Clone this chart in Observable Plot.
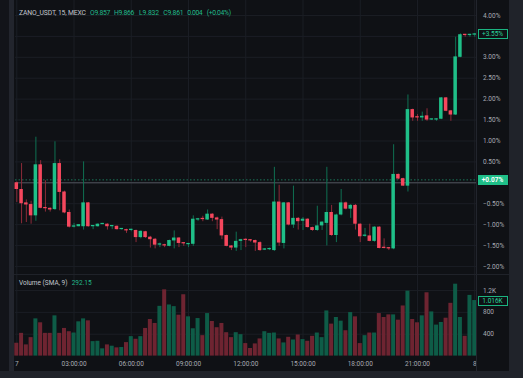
<!DOCTYPE html>
<html><head><meta charset="utf-8">
<script src="https://cdn.jsdelivr.net/npm/d3@7"></script>
<script src="https://cdn.jsdelivr.net/npm/@observablehq/plot@0.6"></script>
<style>
html,body{margin:0;padding:0;background:#0f1115;}
#wrap{position:relative;width:523px;height:378px;overflow:hidden;background:#0f1115;font-family:Roboto,"Noto Sans",sans-serif;}
#wrap svg{position:absolute;left:0;}
.blk{position:absolute;}
.lbl{position:absolute;font-size:6.5px;line-height:8px;white-space:nowrap;}
</style></head><body>
<div id="wrap"></div>
<script>
// ---- header texts ----
const symbolText = "ZANO_USDT, 15, MEXC";
const ohlcTexts = ["O9.857", "H9.866", "L9.832", "C9.861", "0.004", "(+0.04%)"];
const volTitle = "Volume (SMA, 9)";
const volSma = "292.15";
const lastPctLabel = "+3.55%";
const prevPctLabel = "+0.07%";
const lastVolLabel = "1.016K";

// ---- candles (percent change vs first open), 15-min bars ----
const opens = [0,-0.16,-0.48,-0.52,-0.79,0.43,-0.59,-0.61,-0.64,0.46,-0.22,-0.71,-1.06,-1.05,-1.05,-0.48,-1.05,-1.05,-1.00,-0.99,
 -1.05,-1.04,-1.12,-1.12,-1.14,-1.14,-1.31,-1.17,-1.30,-1.35,-1.49,-1.48,-1.52,-1.39,-1.32,-1.44,-1.48,-1.47,-0.89,-0.86,
 -0.89,-0.75,-0.84,-0.88,-1.26,-1.51,-1.56,-1.40,-1.35,-1.37,-1.38,-1.43,-1.61,-1.60,-1.62,-0.46,-1.45,-0.48,-1.01,-0.85,
 -0.92,-0.87,-1.07,-1.14,-1.03,-0.97,-0.71,-1.26,-0.77,-0.48,-0.63,-0.54,-0.99,-1.28,-1.27,-1.40,-1.06,-1.55,-1.56,-1.58,
 0.20,0.10,-0.08,1.75,1.57,1.55,1.60,1.50,1.50,1.52,2.03,1.72,1.62,3.00,3.53,3.52,3.53];
const highs = [0.02,0.46,-0.41,-0.44,1.09,0.53,0.05,-0.60,0.98,0.55,-0.20,-0.65,-0.97,-1.00,0.50,-0.47,-1.02,-0.98,-0.97,-0.98,
 -1.03,-1.03,-1.10,-1.11,-1.11,-1.13,-1.15,-1.16,-1.28,-1.33,-1.44,-1.47,-1.37,-1.15,-1.31,-1.43,-1.45,-0.79,-0.85,-0.80,
 -0.65,-0.74,-0.82,-0.82,-1.25,-1.50,-1.18,-1.35,-1.34,-1.36,-1.37,-1.41,-1.57,-1.56,0.37,-0.06,-0.47,-0.47,-0.08,-0.83,
 -0.83,-0.86,-1.06,-0.56,-0.93,0.37,-0.54,-0.75,-0.16,-0.46,-0.52,-0.52,-0.98,-1.09,-0.99,-1.05,-1.05,-1.34,-1.55,0.91,
 0.21,0.11,2.10,1.76,1.63,1.69,1.77,1.52,1.53,2.04,2.04,1.73,3.48,3.56,3.55,3.55,3.57];
const lows = [-0.47,-0.98,-0.95,-0.99,-0.92,-0.62,-0.70,-0.70,-0.66,-0.67,-0.74,-1.08,-1.08,-1.05,-1.13,-1.06,-1.12,-1.06,-1.00,-1.13,
 -1.12,-1.13,-1.13,-1.21,-1.17,-1.43,-1.34,-1.33,-1.56,-1.58,-1.55,-1.55,-1.53,-1.58,-1.55,-1.52,-1.55,-1.52,-0.92,-0.93,
 -0.90,-0.93,-1.12,-1.36,-1.53,-1.62,-1.64,-1.62,-1.55,-1.42,-1.64,-1.64,-1.62,-1.62,-1.64,-1.52,-1.58,-1.03,-1.09,-1.13,
 -1.14,-1.08,-1.16,-1.16,-1.14,-1.51,-1.28,-1.43,-0.79,-0.65,-0.85,-1.13,-1.43,-1.30,-1.41,-1.42,-1.58,-1.58,-1.62,-1.60,
 0.07,-0.09,-0.22,1.47,1.47,1.47,1.47,1.49,1.47,1.51,1.70,1.47,1.61,2.99,3.48,3.48,3.48];
const closes = [-0.16,-0.50,-0.53,-0.79,0.43,-0.61,-0.62,-0.65,0.46,-0.23,-0.72,-1.06,-1.03,-1.00,-0.48,-1.05,-1.03,-0.99,-0.98,-1.05,
 -1.04,-1.12,-1.11,-1.15,-1.13,-1.31,-1.16,-1.31,-1.36,-1.49,-1.48,-1.51,-1.38,-1.32,-1.45,-1.46,-1.46,-0.87,-0.86,-0.88,
 -0.75,-0.85,-0.89,-1.27,-1.52,-1.56,-1.40,-1.36,-1.38,-1.39,-1.44,-1.62,-1.60,-1.59,-0.46,-1.44,-0.48,-1.01,-0.85,-0.93,
 -0.87,-1.07,-1.14,-1.03,-0.94,-0.71,-1.26,-0.77,-0.48,-0.63,-0.54,-0.99,-1.29,-1.26,-1.40,-1.06,-1.57,-1.57,-1.58,0.20,
 0.09,-0.08,1.75,1.55,1.55,1.59,1.50,1.51,1.52,2.03,1.71,1.62,3.01,3.54,3.52,3.53,3.55];
const volumes = [235,416,205,338,681,609,416,416,736,416,506,446,422,627,681,645,265,271,133,205,
 181,151,157,247,356,308,356,506,669,597,910,1212,935,905,748,1122,718,500,687,374,
 778,633,519,597,428,338,428,392,229,139,223,314,446,416,422,314,241,344,295,386,
 302,271,362,422,338,826,585,706,639,464,796,718,229,374,422,422,778,706,754,754,
 657,917,1188,669,609,736,1158,808,567,615,693,965,1315,706,362,1110,1016];

// ---- axes ----
const timeTickValues = [0,3,6,9,12,15,18,21,24];
const timeTickLabels = ["7","03:00:00","06:00:00","09:00:00","12:00:00","15:00:00","18:00:00","21:00:00","8"];
const priceGridValues = [4,3.5,3,2.5,2,1.5,1,0.5,0,-0.5,-1,-1.5,-2];
const priceTickValues = [4,3,2.5,2,1.5,1,0.5,-0.5,-1,-1.5,-2];
const priceTickLabels = ["4.00%","3.00%","2.50%","2.00%","1.50%","1.00%","0.50%","−0.50%","−1.00%","−1.50%","−2.00%"];
const volTickValues = [1200,800,400];
const volTickLabels = ["1.2K","800","400"];
const basePct = 0, prevPct = 0.07, lastPct = 3.55, lastVol = 1016;

// ---- colours ----
const BG="#0f1115", GRID="#1b1e25", TXT="#a7aab2";
const UP="#1fbf88", DN="#f5475d", UPW="#0f7052", DNW="#8c2b39", VUP="#0e5c47", VDN="#6e2431", GREEN="#22b98a";

const candles = opens.map((o,i)=>({t:i*0.25, o, h:highs[i], l:lows[i], c:closes[i], v:volumes[i], up:closes[i]>=o}));
const xDomain = [-0.068, 24.093];
const font = {background:"transparent", fontSize:"6.5px", fontFamily:"Roboto, sans-serif", overflow:"visible"};

const price = Plot.plot({
  width:523, height:275, marginLeft:15, marginRight:47, marginTop:0, marginBottom:0,
  style:font,
  x:{domain:xDomain, axis:null},
  y:{domain:[-2.216,4.358], axis:null},
  color:{type:"identity"},
  marks:[
    Plot.ruleY(priceGridValues,{stroke:GRID}),
    Plot.ruleX(timeTickValues,{stroke:GRID}),
    Plot.ruleY([basePct],{stroke:"#50535c"}),
    Plot.ruleY([prevPct],{stroke:"#1a7558", strokeDasharray:"1.5,2"}),
    Plot.ruleX(candles,{x:"t", y1:"l", y2:"h", stroke:d=>d.up?UPW:DNW}),
    Plot.rect(candles,{x1:d=>d.t-0.092, x2:d=>d.t+0.092,
      y1:d=>Math.min(d.o,d.c), y2:d=>Math.max(d.o,d.c,Math.min(d.o,d.c)+0.03),
      fill:d=>d.up?UP:DN}),
    Plot.axisY(priceTickValues,{anchor:"right", tickSize:0, tickPadding:6.5,
      tickFormat:d=>priceTickLabels[priceTickValues.indexOf(d)], color:TXT, textAnchor:"start"})
  ]
});

const vol = Plot.plot({
  width:523, height:96, marginLeft:15, marginRight:47, marginTop:0, marginBottom:15.4,
  style:font,
  x:{domain:xDomain, axis:null},
  y:{domain:[0,1474], axis:null},
  color:{type:"identity"},
  marks:[
    Plot.ruleY(volTickValues,{stroke:GRID}),
    Plot.ruleX(timeTickValues,{stroke:GRID}),
    Plot.rectY(candles,{x1:d=>d.t-0.105, x2:d=>d.t+0.105, y:"v", fill:d=>d.up?VUP:VDN}),
    Plot.axisY(volTickValues,{anchor:"right", tickSize:0, tickPadding:6.5,
      tickFormat:d=>volTickLabels[volTickValues.indexOf(d)], color:TXT}),
    Plot.axisX(timeTickValues,{anchor:"bottom", tickSize:0, tickPadding:5,
      tickFormat:d=>timeTickLabels[timeTickValues.indexOf(d)], color:TXT})
  ]
});

const wrap = document.getElementById("wrap");
function blk(l,t,w,h,bg){const d=document.createElement("div");d.className="blk";Object.assign(d.style,{left:l+"px",top:t+"px",width:w+"px",height:h+"px",background:bg});wrap.appendChild(d);return d;}
function lbl(text,l,t,color,extra){const d=document.createElement("div");d.className="lbl";d.textContent=text;Object.assign(d.style,{left:l+"px",top:t+"px",color},extra||{});wrap.appendChild(d);return d;}
// fit a label's letter-spacing so that it spans a given width
function fit(el,target){const w=el.getBoundingClientRect().width;const n=el.textContent.length;if(n>1)el.style.letterSpacing=((target-w)/n).toFixed(2)+"px";}

price.style.top="0px"; wrap.appendChild(price);
vol.style.top="275px"; wrap.appendChild(vol);

// frame pieces
blk(0,0,9,378,"#121419");
blk(9,0,5,378,"#22252d");
blk(509,0,14,378,"#20232a");
blk(0,371,523,7,"#20232a");
blk(476,0,1,371,"#22252d");
blk(14,274,495,1,"#1f2229");

// header: each piece placed at its own left, fitted to the reference width
const headLefts = [90,114,139,163.3,187.3,206.7];
const headWidths = [20,20,20,20,15,24];
fit(lbl(symbolText,19,8.5,"#c3c6cd",{fontSize:"6.8px"}),67);
ohlcTexts.forEach((t,i)=>fit(lbl(t,headLefts[i],8.5,GREEN,{fontSize:"6.8px"}),headWidths[i]));

// volume title
lbl(volTitle,19,278.5,"#c3c6cd");
lbl(volSma,71.7,278.5,GREEN);

// price / volume labels on the axis
const ys = price.scale("y"), vs = vol.scale("y");
function box(text,cy,filled){
  return lbl(text,477.5,cy-4.5,filled?"#ffffff":"#2ad39a",{
    width:"28px",height:"8px",textAlign:"center",border:"0.8px solid "+(filled?"#1fbf88":"#1bb380"),
    background:filled?"#1fbf88":BG,fontWeight:filled?"bold":"normal"});
}
box(lastPctLabel, ys.apply(lastPct), false);
box(prevPctLabel, ys.apply(prevPct), true);
box(lastVolLabel, 275+vs.apply(lastVol), false);
</script>
</body></html>
